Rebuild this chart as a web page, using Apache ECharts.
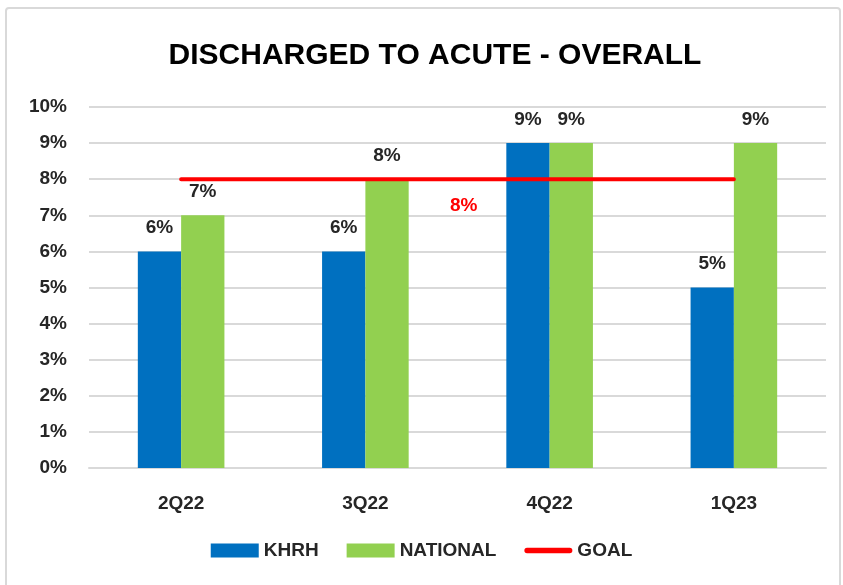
<!DOCTYPE html>
<html>
<head>
<meta charset="utf-8">
<script src="https://cdn.jsdelivr.net/npm/echarts@6/dist/echarts.min.js"></script>
<style>
  html, body { margin: 0; padding: 0; background: #fff; }
  #chart { width: 843px; height: 585px; }
</style>
</head>
<body>
<div id="chart"></div>
<script>
// data
const categories = ['2Q22', '3Q22', '4Q22', '1Q23'];
const khrh = [6, 6, 9, 5];
const national = [7, 8, 9, 9];
const goal = [8, 8, 8, 8];
const goalLabelIndex = 2; // only one goal label is shown

const font = '"Liberation Sans", Arial, sans-serif';
const textColor = '#262626';

const chart = echarts.init(document.getElementById('chart'));
chart.setOption({
  animation: false,
  // outer frame like the excel chart area
  graphic: [{
    type: 'rect',
    shape: { x: 6, y: 8, width: 834, height: 585, r: 3 },
    style: { fill: 'none', stroke: '#d9d9d9', lineWidth: 2 },
    silent: true,
  }],
  title: {
    text: 'DISCHARGED TO ACUTE - OVERALL',
    left: 430,
    textAlign: 'center',
    top: 36,
    textStyle: { fontFamily: font, fontSize: 30, fontWeight: 'bold', color: '#000' },
  },
  legend: {
    bottom: 20,
    left: 'center',
    itemGap: 28,
    itemWidth: 48,
    itemHeight: 14,
    textStyle: { fontFamily: font, fontSize: 19, fontWeight: 'bold', color: textColor },
    data: [
      { name: 'KHRH', icon: 'rect' },
      { name: 'NATIONAL', icon: 'rect' },
      // thin rounded bar like the excel line marker
      { name: 'GOAL', icon: 'path://M3,0 L51,0 A3,3 0 0 1 51,6 L3,6 A3,3 0 0 1 3,0 Z', itemStyle: { color: '#FF0000' } },
    ],
  },
  grid: {
    left: 89,
    right: 17,
    top: 107,
    bottom: 117,
  },
  xAxis: {
    type: 'category',
    data: categories,
    axisLine: { lineStyle: { color: '#d9d9d9', width: 2 } },
    axisTick: { show: false },
    axisLabel: {
      margin: 26,
      fontFamily: font, fontSize: 19, fontWeight: 'bold', color: textColor,
    },
  },
  yAxis: {
    type: 'value',
    min: 0,
    max: 10,
    interval: 1,
    axisLine: { show: false },
    axisTick: { show: false },
    splitLine: { lineStyle: { color: '#d9d9d9', width: 2 } },
    axisLabel: {
      margin: 22,
      formatter: '{value}%',
      fontFamily: font, fontSize: 19, fontWeight: 'bold', color: textColor,
    },
  },
  series: [
    {
      name: 'KHRH',
      type: 'bar',
      data: khrh,
      barGap: 0,
      barCategoryGap: '53%',
      itemStyle: { color: '#0070C0' },
      label: {
        show: true, position: 'top', distance: 14, formatter: '{c}%',
        fontFamily: font, fontSize: 19, fontWeight: 'bold', color: textColor,
      },
    },
    {
      name: 'NATIONAL',
      type: 'bar',
      data: national,
      itemStyle: { color: '#92D050' },
      label: {
        show: true, position: 'top', distance: 14, formatter: '{c}%',
        fontFamily: font, fontSize: 19, fontWeight: 'bold', color: textColor,
      },
    },
    {
      name: 'GOAL',
      type: 'line',
      data: goal.map((v, i) => (i === goalLabelIndex ? {
        value: v,
        label: {
          show: true, position: 'bottom', distance: 16, offset: [-86, 0], formatter: '{c}%',
          fontFamily: font, fontSize: 19, fontWeight: 'bold', color: '#FF0000',
        },
      } : v)),
      symbol: 'circle',
      symbolSize: 2,
      showSymbol: true,
      lineStyle: { color: '#FF0000', width: 4, cap: 'round' },
      itemStyle: { color: '#FF0000' },
      z: 5,
    },
  ],
});
</script>
</body>
</html>
